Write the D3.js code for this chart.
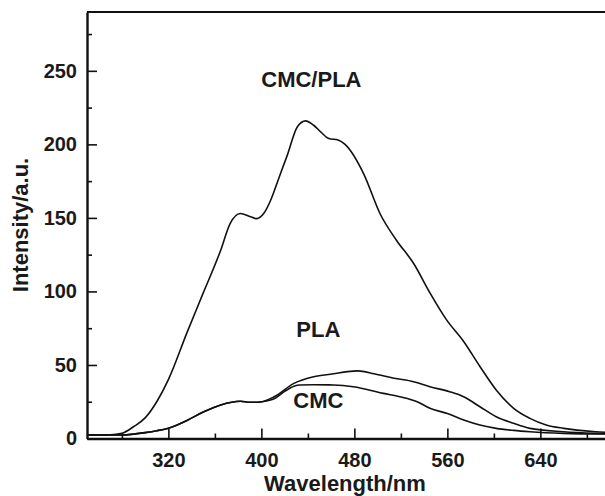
<!DOCTYPE html>
<html>
<head>
<meta charset="utf-8">
<script src="https://cdn.jsdelivr.net/npm/d3@7"></script>
<style>
  body { margin: 0; background: #fff; }
  svg { display: block; font-family: "Liberation Sans", Arial, Helvetica, sans-serif; }
  .axis path, .axis line { stroke: #111; }
  .axis text { font-size: 20px; font-weight: bold; fill: #1a1a1a; }
  .label { font-size: 22px; font-weight: bold; fill: #1a1a1a; }
  .curve { fill: none; stroke: #111; stroke-width: 1.6; }
</style>
</head>
<body>
<div id="chart"></div>
<script>
// wavelength (nm) / intensity (a.u.)
const cmcPlaNm  = [250, 270, 280, 290, 300, 310, 320, 336, 350, 365, 373, 382, 390, 396, 402, 408, 415, 422, 431, 438, 445, 451, 458, 466, 472, 488, 502, 516, 531, 545, 559, 574, 588, 602, 617, 631, 645, 660, 688, 700];
const cmcPlaVal = [2.5, 2.5, 3.5, 8, 14, 25, 40, 72, 99, 128, 146, 153, 151, 149.5, 153, 162, 177, 192, 212, 216, 213, 208.5, 204, 203, 200, 180, 153, 135, 119, 99, 81, 66, 49, 33, 20.5, 13.7, 9.2, 6.9, 4.6, 4];

const plaNm  = [250, 281, 290, 300, 310, 322, 336, 350, 365, 382, 390, 399, 411, 428, 445, 462, 474, 483, 497, 514, 531, 545, 562, 574, 588, 602, 617, 631, 660, 688, 700];
const plaVal = [2.4, 2.4, 3, 4, 5.3, 7.5, 12.3, 18, 22.8, 25.3, 24.6, 24.8, 28.4, 37.5, 42, 44, 45.5, 46, 44, 41, 38.6, 35.2, 31.8, 28.4, 21.6, 14.8, 10.3, 6.9, 4.6, 3.5, 3.2];

const cmcNm  = [250, 281, 290, 300, 310, 322, 336, 350, 365, 382, 390, 399, 404, 411, 420, 428, 433, 445, 462, 479, 490, 505, 519, 534, 545, 560, 574, 588, 602, 617, 631, 660, 700];
const cmcVal = [2.4, 2.4, 3, 4, 5.3, 7.5, 12.3, 18, 22.8, 25.3, 24.6, 24.8, 25.5, 27, 32, 35.5, 36.4, 36.5, 36.4, 35.2, 33.5, 30.7, 28.4, 25, 20.5, 17, 12.6, 9.2, 6.9, 5.5, 4.6, 3.5, 3];

const xMajor = [320, 400, 480, 560, 640];
const xMinor = [280, 360, 440, 520, 600, 680];
const yMajor = [0, 50, 100, 150, 200, 250];
const yMinor = [25, 75, 125, 175, 225, 275];

const labels = [
    { text: "CMC/PLA", nm: 443, val: 239 },
    { text: "PLA", nm: 449, val: 68.8 },
    { text: "CMC", nm: 449, val: 20.5 }
];

const width = 605, height = 496;
const margin = { top: 12, left: 87 };
const plotBottom = 438.5;

const svg = d3.select("#chart")
    .append("svg")
    .attr("width", width)
    .attr("height", height);

const x = d3.scaleLinear()
    .domain([250, 700])
    .range([margin.left, margin.left + 450 * 1.1625]);

const y = d3.scaleLinear()
    .domain([0, 290])
    .range([plotBottom, margin.top]);

// frame top line
svg.append("line")
    .attr("x1", x(250)).attr("x2", x(700))
    .attr("y1", y(290)).attr("y2", y(290))
    .attr("stroke", "#111")
    .attr("stroke-width", 2.2);

// minor ticks
svg.append("g")
    .attr("class", "axis")
    .attr("transform", `translate(0,${plotBottom})`)
    .call(d3.axisBottom(x).tickValues(xMinor).tickSize(-5).tickFormat(""))
    .call(g => g.select(".domain").remove())
    .selectAll("line").attr("stroke-width", 1.6);

svg.append("g")
    .attr("class", "axis")
    .attr("transform", `translate(${margin.left},0)`)
    .call(d3.axisLeft(y).tickValues(yMinor).tickSize(-5).tickFormat(""))
    .call(g => g.select(".domain").remove())
    .selectAll("line").attr("stroke-width", 1.6);

// major axes
const xAxis = svg.append("g")
    .attr("class", "axis")
    .attr("transform", `translate(0,${plotBottom})`)
    .call(d3.axisBottom(x).tickValues(xMajor).tickSize(-10).tickSizeOuter(0).tickPadding(14));
xAxis.select(".domain").attr("stroke-width", 2.4);
xAxis.selectAll("line").attr("stroke-width", 1.6);

const yAxis = svg.append("g")
    .attr("class", "axis")
    .attr("transform", `translate(${margin.left},0)`)
    .call(d3.axisLeft(y).tickValues(yMajor).tickSize(-10).tickSizeOuter(0).tickPadding(10));
yAxis.select(".domain").attr("stroke-width", 2.4);
yAxis.selectAll("line").attr("stroke-width", 1.6);

// curves
const line = d3.line()
    .x(d => x(d[0]))
    .y(d => y(d[1]))
    .curve(d3.curveMonotoneX);

const series = [
    d3.zip(cmcPlaNm, cmcPlaVal),
    d3.zip(plaNm, plaVal),
    d3.zip(cmcNm, cmcVal)
];

svg.selectAll(".curve")
    .data(series)
    .join("path")
    .attr("class", "curve")
    .attr("d", line);

// curve labels
svg.selectAll(".curve-label")
    .data(labels)
    .join("text")
    .attr("class", "label curve-label")
    .attr("text-anchor", "middle")
    .attr("x", d => x(d.nm))
    .attr("y", d => y(d.val))
    .text(d => d.text);

// axis titles
svg.append("text")
    .attr("class", "label")
    .attr("text-anchor", "middle")
    .attr("x", 345)
    .attr("y", 491)
    .text("Wavelength/nm");

svg.append("text")
    .attr("class", "label")
    .attr("text-anchor", "middle")
    .attr("transform", "translate(27.5,225) rotate(-90)")
    .text("Intensity/a.u.");
</script>
</body>
</html>
